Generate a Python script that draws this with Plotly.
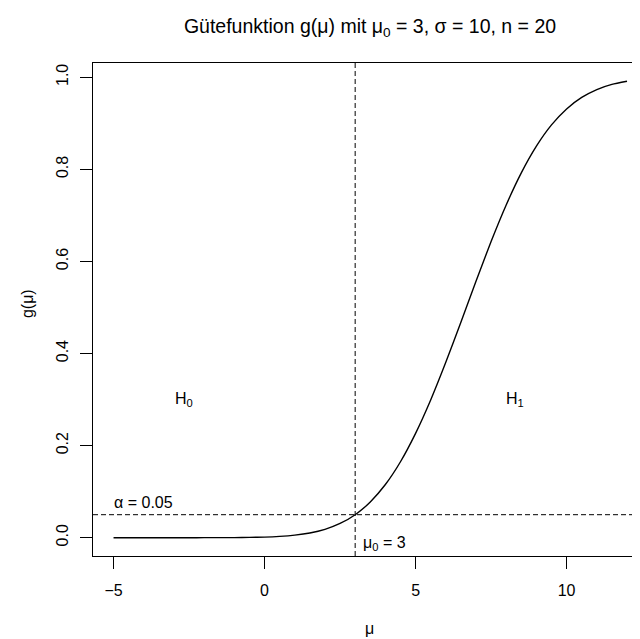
import plotly.graph_objects as go

# Data
mu_values = [-5, -4.5, -4, -3.5, -3, -2.5, -2, -1.5, -1, -0.5, 0, 0.5, 1, 1.5, 2, 2.5,
             3, 3.5, 4, 4.5, 5, 5.5, 6, 6.5, 7, 7.5, 8, 8.5, 9, 9.5, 10, 10.5, 11, 11.5, 12]
g_values = [0.0, 0.0, 0.0, 0.0, 0.0, 0.0, 0.0001, 0.0001, 0.0003, 0.0007, 0.0014, 0.0029,
            0.0056, 0.0103, 0.0182, 0.0309, 0.05, 0.0777, 0.1155, 0.165, 0.2266, 0.2991,
            0.3809, 0.4681, 0.5572, 0.6433, 0.7227, 0.7924, 0.8504, 0.8965, 0.9313, 0.9563,
            0.9734, 0.9845, 0.9913]
mu0 = 3
alpha = 0.05
x_ticks = [-5, 0, 5, 10]
y_ticks = [0.0, 0.2, 0.4, 0.6, 0.8, 1.0]
y_tick_labels = ["0.0", "0.2", "0.4", "0.6", "0.8", "1.0"]

FONT = "Liberation Sans, Arial, Helvetica, sans-serif"
FS = 16
OFF = 8  # page body margin offset

fig = go.Figure()
fig.add_trace(go.Scatter(x=mu_values, y=g_values, mode="lines",
                         line=dict(color="black", width=1.4, shape="spline", smoothing=0.6),
                         showlegend=False, hoverinfo="skip"))

# dashed reference lines
fig.add_shape(type="line", xref="x", yref="paper", x0=mu0, x1=mu0, y0=0, y1=1,
              line=dict(color="black", width=1, dash="5px,3px"))
fig.add_shape(type="line", xref="paper", yref="y", x0=0, x1=1, y0=alpha, y1=alpha,
              line=dict(color="black", width=1, dash="5px,3px"))

ann_font = dict(family=FONT, size=FS, color="black")
fig.add_annotation(x=-2.68, y=0.3, text="H<sub>0</sub>", showarrow=False, font=ann_font,
                   xanchor="center", yanchor="middle")
fig.add_annotation(x=8.3, y=0.3, text="H<sub>1</sub>", showarrow=False, font=ann_font,
                   xanchor="center", yanchor="middle")
fig.add_annotation(x=-5.05, y=0.077, text="α = 0.05", showarrow=False, font=ann_font,
                   xanchor="left", yanchor="middle")
fig.add_annotation(x=3.2, y=-0.012, text="μ<sub>0</sub> = 3", showarrow=False, font=ann_font,
                   xanchor="left", yanchor="middle")

# axis titles
fig.add_annotation(xref="paper", yref="paper", x=0, y=0.511, xshift=-66, text="g(μ)",
                   textangle=-90, showarrow=False, font=ann_font,
                   xanchor="center", yanchor="middle")
fig.add_annotation(xref="paper", yref="paper", x=0.506, y=0, yshift=-72, text="μ",
                   showarrow=False, font=ann_font, xanchor="center", yanchor="middle")

W, H = 640 - OFF, 639 - OFF
fig.update_layout(
    width=W, height=H,
    margin=dict(l=93 - OFF, r=0, t=63 - OFF, b=639 - 556),
    paper_bgcolor="white", plot_bgcolor="white",
    font=dict(family=FONT, size=FS, color="black"),
    title=dict(text="Gütefunktion g(μ) mit μ<sub>0</sub> = 3, σ = 10, n = 20",
               x=(370 - OFF) / W, xref="container", xanchor="center",
               y=1 - (26 - OFF) / H, yref="container", yanchor="middle",
               font=dict(family=FONT, size=19.5, color="black")),
    xaxis=dict(range=[-5.68, 12.43], tickvals=x_ticks, ticks="outside", ticklen=12,
               tickcolor="black", showline=True, linecolor="black", linewidth=1,
               mirror=True, showgrid=False, zeroline=False, ticklabelstandoff=8,
               tickfont=dict(family=FONT, size=FS, color="black")),
    yaxis=dict(range=[-0.0397, 1.031], tickvals=y_ticks, ticktext=y_tick_labels,
               ticks="outside", ticklen=12, tickcolor="black", tickangle=-90,
               showline=True, linecolor="black", linewidth=1, showgrid=False,
               zeroline=False, ticklabelstandoff=6,
               tickfont=dict(family=FONT, size=FS, color="black")),
)

fig.write_html("out.html")
